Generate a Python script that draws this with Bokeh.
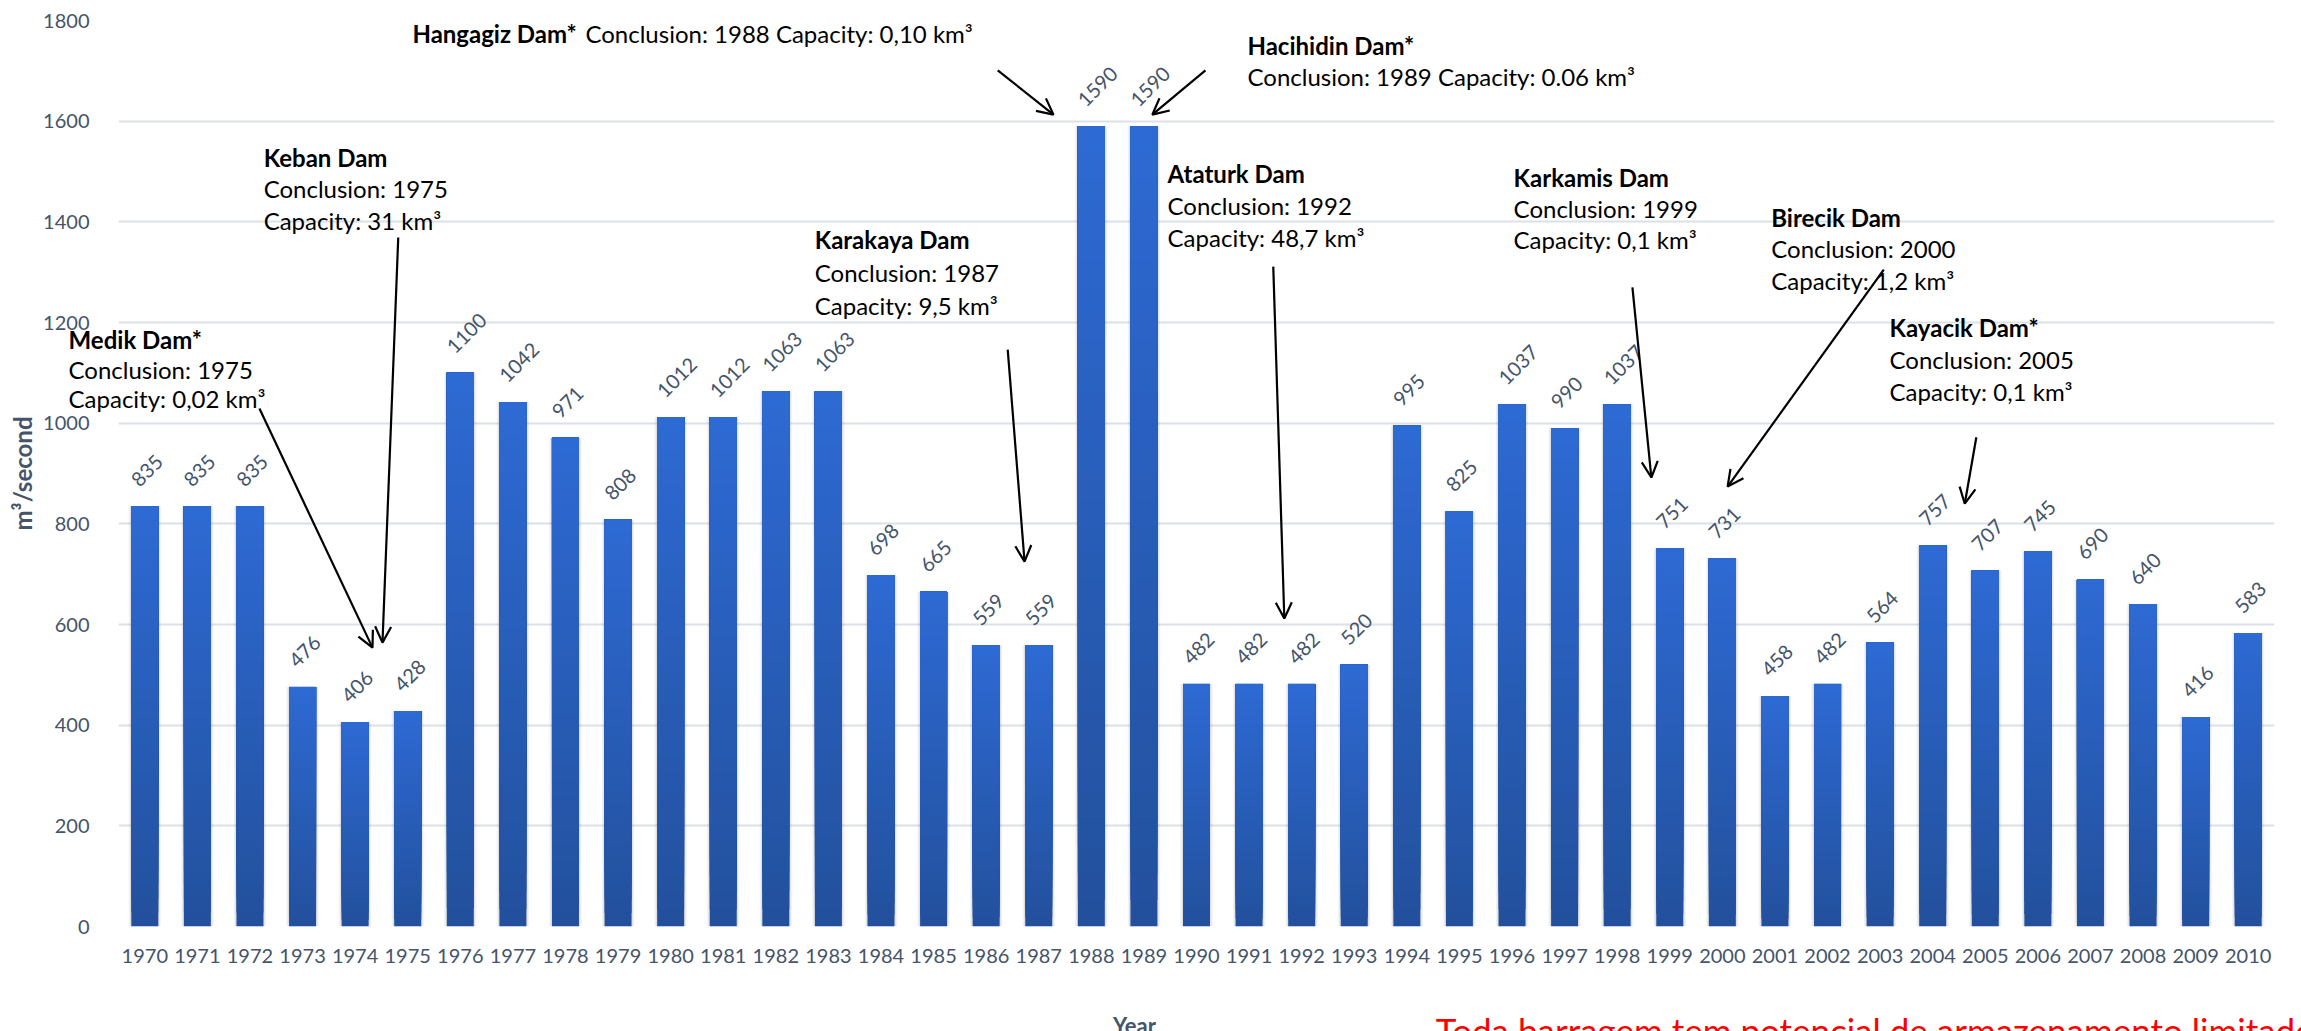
import math

from bokeh.core.properties import value
from bokeh.embed import file_html
from bokeh.models import Arrow, ColumnDataSource, FixedTicker, Label, OpenHead, Range1d
from bokeh.plotting import figure
from bokeh.resources import INLINE

# Mean annual flow per year (m³/second)
years = list(range(1970, 2011))
flow = [835, 835, 835, 476, 406, 428, 1100, 1042, 971, 808,
        1012, 1012, 1063, 1063, 698, 665, 559, 559, 1590, 1590,
        482, 482, 482, 520, 995, 825, 1037, 990, 1037, 751,
        731, 458, 482, 564, 757, 707, 745, 690, 640, 416, 583]
y_ticks = [0, 200, 400, 600, 800, 1000, 1200, 1400, 1600, 1800]

# Dams with three-line notes
dam_names = ["Medik Dam*", "Keban Dam", "Karakaya Dam", "Ataturk Dam",
             "Karkamis Dam", "Birecik Dam", "Kayacik Dam*"]
dam_conclusion = ["Conclusion:  1975", "Conclusion: 1975", "Conclusion: 1987",
                  "Conclusion: 1992", "Conclusion: 1999", "Conclusion: 2000",
                  "Conclusion: 2005"]
dam_capacity = ["Capacity: 0,02 km³", "Capacity: 31 km³", "Capacity:  9,5 km³",
                "Capacity: 48,7 km³", "Capacity: 0,1 km³", "Capacity: 1,2 km³",
                "Capacity: 0,1 km³"]

# Note placement (x in years, y in m³/s for the three lines) and arrow ends
note_x = [1968.55, 1972.26, 1982.74, 1989.45, 1996.03, 2000.93, 2003.18]
note_y = [(1166, 1107, 1049), (1528, 1466, 1403), (1365, 1299, 1234),
          (1496, 1432, 1369), (1488, 1426, 1365), (1409, 1347, 1283),
          (1190, 1126, 1063)]
arrows = [
    (1972.18, 1029, 1974.33, 554),   # Medik
    (1974.82, 1369, 1974.52, 564),   # Keban
    (1986.41, 1146, 1986.73, 725),   # Karakaya
    (1991.46, 1311, 1991.67, 612),   # Ataturk
    (1998.29, 1270, 1998.65, 892),   # Karkamis
    (2003.07, 1305, 2000.10, 874),   # Birecik
    (2004.83, 972, 2004.61, 840),    # Kayacik
    (1986.22, 1701, 1987.28, 1613),  # Hangagiz
    (1990.17, 1701, 1989.16, 1613),  # Hacihidin
]

FONT = "Lato"
SLATE = "#44546A"
NOTE_SIZE = "24px"

p = figure(width=2301, height=1031, output_backend="svg", toolbar_location=None,
           x_range=Range1d(1969.5, 2010.5), y_range=Range1d(0, 1800),
           min_border_left=118, min_border_right=27, min_border_top=20,
           min_border_bottom=105)
p.outline_line_color = None
p.background_fill_color = "white"
p.border_fill_color = "white"

# Axes
p.xaxis.ticker = FixedTicker(ticks=years)
p.yaxis.ticker = FixedTicker(ticks=y_ticks)
for ax in (p.xaxis[0], p.yaxis[0]):
    ax.axis_line_color = None
    ax.major_tick_line_color = None
    ax.minor_tick_line_color = None
    ax.major_label_text_font = FONT
    ax.major_label_text_font_size = "20px"
    ax.major_label_text_color = SLATE
p.xaxis.major_label_standoff = 16
p.yaxis.major_label_standoff = 23
p.yaxis.axis_label = "m³/second"
p.yaxis.axis_label_text_font = FONT
p.yaxis.axis_label_text_font_style = "bold"
p.yaxis.axis_label_text_font_size = "24px"
p.yaxis.axis_label_text_color = SLATE
p.yaxis.axis_label_standoff = 3

p.xgrid.grid_line_color = None
p.ygrid.grid_line_color = "#DCE1E8"
p.ygrid.grid_line_width = 2

# Soft shadow behind bars
BAR_W = 0.513
p.vbar(x=years, top=flow, bottom=-6, width=BAR_W + 0.10, fill_color="black",
       fill_alpha=0.05, line_color=None)
p.vbar(x=years, top=flow, bottom=-4, width=BAR_W + 0.05, fill_color="black",
       fill_alpha=0.07, line_color=None)

# Bars with a vertical gradient: dark at the base, lighter at the top
N = 30
top_rgb = (0x2E, 0x6A, 0xD4)
bot_rgb = (0x22, 0x50, 0x9C)
gx, gb, gt, gc = [], [], [], []
for k in range(N):
    t = (k + 0.5) / N
    col = "#%02x%02x%02x" % tuple(round(b + (a - b) * t) for a, b in zip(top_rgb, bot_rgb))
    for yr, v in zip(years, flow):
        gx.append(yr)
        gb.append(v * k / N)
        gt.append(v)
        gc.append(col)
p.vbar(x="x", bottom="b", top="t", width=BAR_W, fill_color="c", line_color=None,
       source=ColumnDataSource(dict(x=gx, b=gb, t=gt, c=gc)))

# Value labels, tilted 45°
lab = ColumnDataSource(dict(x=[y - 0.19 for y in years], y=[v + 46 for v in flow],
                            t=[str(v) for v in flow]))
p.text(x="x", y="y", text="t", source=lab, angle=math.pi / 4,
       text_align="left", text_baseline="alphabetic",
       text_font=value(FONT), text_font_size="20px", text_color=SLATE)


def note(x, y, text, bold=False):
    p.add_layout(Label(x=x, y=y, text=text, text_font=FONT, text_font_size=NOTE_SIZE,
                       text_font_style="bold" if bold else "normal",
                       text_color="black", text_align="left", text_baseline="middle"))


# The first note starts left of the plot area, so it is drawn on the overlay level
mx, my = note_x[0], note_y[0]
medik = ColumnDataSource(dict(x=[mx, mx, mx], y=list(my),
                              t=[dam_names[0], dam_conclusion[0], dam_capacity[0]],
                              s=["bold", "normal", "normal"]))
p.text(x="x", y="y", text="t", source=medik, text_font_style="s",
       text_align="left", text_baseline="middle", text_font=value(FONT),
       text_font_size=NOTE_SIZE, text_color="black", level="overlay")

for name, c1, c2, x, ys in list(zip(dam_names, dam_conclusion, dam_capacity,
                                     note_x, note_y))[1:]:
    note(x, ys[0], name, bold=True)
    note(x, ys[1], c1)
    note(x, ys[2], c2)

# Single-line and two-line notes
note(1975.09, 1774, "Hangagiz Dam*", bold=True)
note(1978.38, 1774, "Conclusion: 1988 Capacity: 0,10 km³")
note(1990.97, 1750, "Hacihidin Dam*", bold=True)
note(1990.97, 1689, "Conclusion: 1989 Capacity: 0.06 km³")

for xs, ys, xe, ye in arrows:
    p.add_layout(Arrow(x_start=xs, y_start=ys, x_end=xe, y_end=ye,
                       line_color="black", line_width=2.2,
                       end=OpenHead(size=16, line_width=2.2, line_color="black")))

# Axis title and remark under the year labels (the remark runs past the page edge)
p.text(x=[1988.82], y=[-169], text=["Year"], text_align="center", text_baseline="top",
       text_font=value(FONT), text_font_size="22px", text_font_style="bold",
       text_color=SLATE, level="overlay")
p.text(x=[1994.55], y=[-164], text=["Toda barragem tem potencial de armazenamento limitado"],
       text_align="left", text_baseline="top", text_font=value(FONT),
       text_font_size="35px", text_color="#FF0000", level="overlay")

open("out.html", "w").write(file_html(p, INLINE))
